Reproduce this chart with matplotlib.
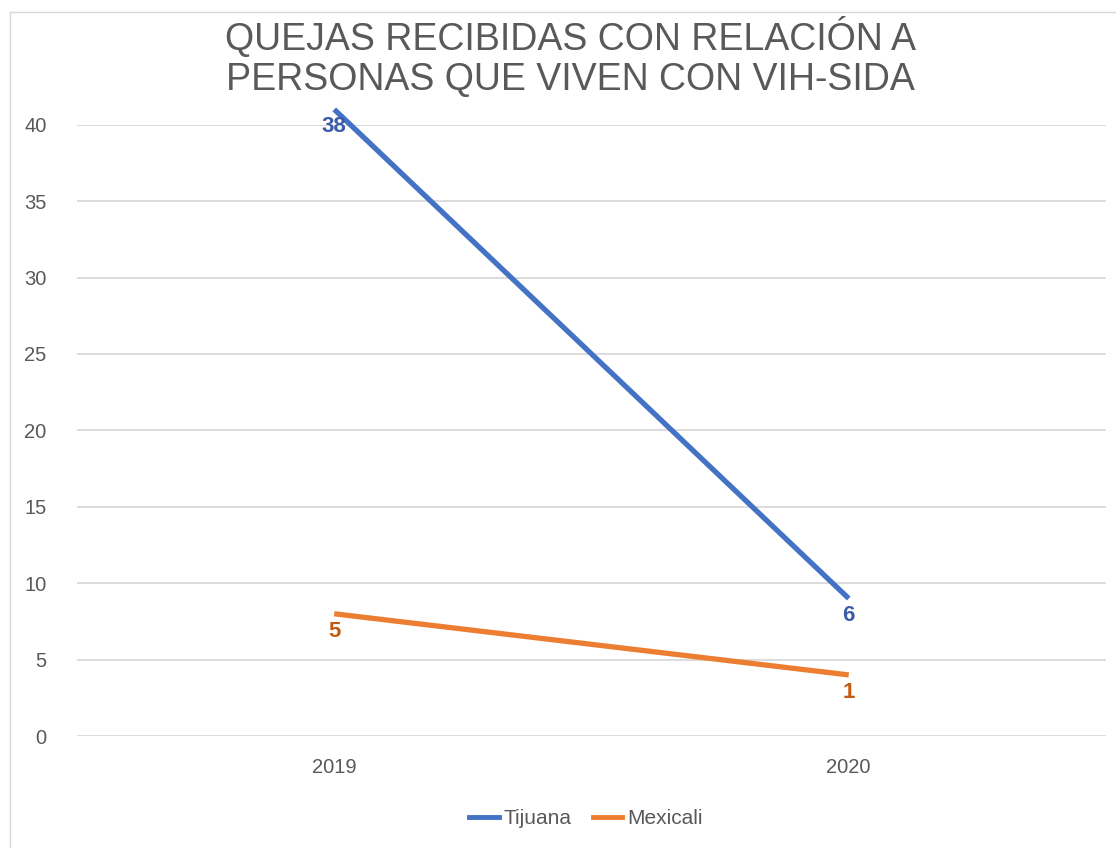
import matplotlib.pyplot as plt
from matplotlib.lines import Line2D

plt.rcParams['font.family'] = ['Liberation Sans', 'DejaVu Sans']

# Datos
anios = ["2019", "2020"]
tijuana = [41, 9]        # posición de la línea en el gráfico
mexicali = [8, 4]
tijuana_etiquetas = ["38", "6"]   # etiquetas mostradas
mexicali_etiquetas = ["5", "1"]
yticks = [0, 5, 10, 15, 20, 25, 30, 35, 40]

azul = "#4472c4"
naranja = "#ed7d31"
gris = "#595959"

fig = plt.figure(figsize=(11.16, 8.48), dpi=100)
ax = fig.add_axes([0.069, 0.132, 0.922, 0.721])

x = range(len(anios))
ax.plot(x, tijuana, color=azul, lw=3.8, label="Tijuana", clip_on=False, solid_capstyle="butt")
ax.plot(x, mexicali, color=naranja, lw=3.8, label="Mexicali", clip_on=False, solid_capstyle="butt")

for xi, yi, t in zip(x, tijuana, tijuana_etiquetas):
    ax.annotate(t, (xi, yi), xytext=(0, -12), textcoords="offset points", annotation_clip=False,
                ha="center", va="center", fontsize=16, fontweight="bold", color="#3a5ca8")
for xi, yi, t in zip(x, mexicali, mexicali_etiquetas):
    ax.annotate(t, (xi, yi), xytext=(0, -13), textcoords="offset points", annotation_clip=False,
                ha="center", va="center", fontsize=16, fontweight="bold", color="#c55a11")

ax.set_xlim(-0.5, 1.5)
ax.set_ylim(0, 40)
ax.set_yticks(yticks)
ax.set_xticks(list(x))
ax.set_xticklabels(anios)
ax.tick_params(length=0, labelsize=14.5, labelcolor=gris)
ax.tick_params(axis="y", pad=22)
ax.tick_params(axis="x", pad=16)
ax.grid(axis="y", color="#d9d9d9", lw=1.3)
ax.set_axisbelow(True)
for s in ax.spines.values():
    s.set_visible(False)

fig.text(0.511, 0.932, "QUEJAS RECIBIDAS CON RELACIÓN A\nPERSONAS QUE VIVEN CON VIH-SIDA",
         ha="center", va="center", fontsize=27, color=gris, linespacing=1.12)

handles = [Line2D([], [], color=azul, lw=3.5), Line2D([], [], color=naranja, lw=3.5)]
fig.legend(handles, ["Tijuana", "Mexicali"], loc="center", bbox_to_anchor=(0.525, 0.035),
           ncol=2, frameon=False, fontsize=15, labelcolor=gris, handlelength=1.4,
           handletextpad=0.25, columnspacing=1.0)

# borde del gráfico
fig.add_artist(Line2D([10 / 1116, 10 / 1116], [0, 1 - 12 / 848], color="#d9d9d9", lw=1, transform=fig.transFigure))
fig.add_artist(Line2D([10 / 1116, 1], [1 - 12 / 848, 1 - 12 / 848], color="#d9d9d9", lw=1, transform=fig.transFigure))

fig.savefig("out.png", dpi=100)
